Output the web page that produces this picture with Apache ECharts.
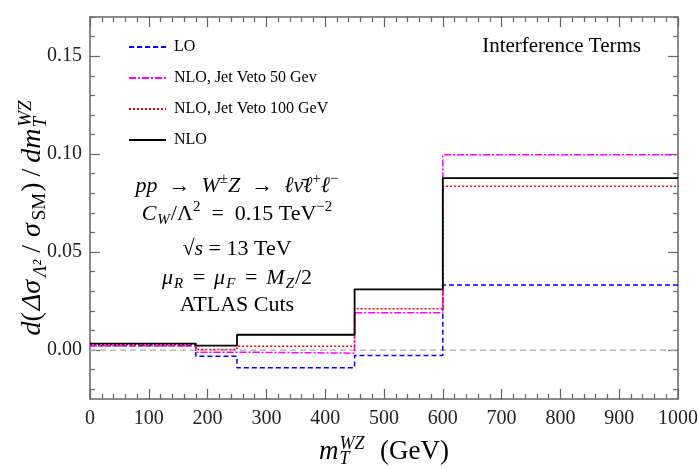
<!DOCTYPE html>
<html>
<head>
<meta charset="utf-8">
<script src="https://cdn.jsdelivr.net/npm/echarts@6/dist/echarts.min.js"></script>
<style>
  html, body { margin: 0; padding: 0; background: #ffffff; }
  #chart { width: 698px; height: 469px; }
</style>
</head>
<body>
<div id="chart"></div>
<script>
// Bin edges in m_T^WZ (GeV) and the interference-term value of each bin
const binEdges = [0, 180, 250, 450, 600, 1000];
const loValues = [0.0022, -0.0032, -0.0091, -0.0028, 0.0332];
const jetVeto50Values = [0.0022, -0.0011, -0.0016, 0.0190, 0.0997];
const jetVeto100Values = [0.0027, 0.0003, 0.0019, 0.0211, 0.0836];
const nloValues = [0.0033, 0.0022, 0.0078, 0.0310, 0.0878];
const seriesNames = ['LO', 'NLO, Jet Veto 50 Gev', 'NLO, Jet Veto 100 GeV', 'NLO'];

// Axis ranges and tick positions
const xRange = [0, 1000];
const yRange = [-0.025, 0.17];
const yMajorTicks = [0, 0.05, 0.10, 0.15];
const yMinorTicks = [-0.02, -0.01, 0.01, 0.02, 0.03, 0.04, 0.06, 0.07, 0.08, 0.09,
                     0.11, 0.12, 0.13, 0.14, 0.16, 0.17];

const SERIF = 'Liberation Serif';
const FRAME = '#666666';

// histogram outline: one point per left edge, last value repeated at the right edge
function steps(values) {
  return binEdges.map((e, i) => [e, values[Math.min(i, values.length - 1)]]);
}

// rich-text styles for simple math: italic symbols, sub- and superscripts
function mathRich(size) {
  const small = Math.round(size * 0.68);
  const lh = size + 6;
  const slh = Math.round(size * 0.55);
  const pad = Math.round(size * 0.2);
  return {
    n:    { fontFamily: SERIF, fontSize: size, lineHeight: lh, color: '#000' },
    i:    { fontFamily: SERIF, fontStyle: 'italic', fontSize: size, lineHeight: lh, color: '#000' },
    // operators and slashes get a little extra room on both sides
    op:   { fontFamily: SERIF, fontSize: size, lineHeight: lh, padding: [0, pad, 0, pad], color: '#000' },
    ip:   { fontFamily: SERIF, fontStyle: 'italic', fontSize: size, lineHeight: lh, padding: [0, 2, 0, 2], color: '#000' },
    sub:  { fontFamily: SERIF, fontStyle: 'italic', fontSize: small, lineHeight: slh, verticalAlign: 'bottom', padding: [0, 1, 0, 1], color: '#000' },
    subn: { fontFamily: SERIF, fontSize: small, lineHeight: slh, verticalAlign: 'bottom', padding: [0, 1, 0, 1], color: '#000' },
    sup:  { fontFamily: SERIF, fontStyle: 'italic', fontSize: small, lineHeight: slh, verticalAlign: 'top', color: '#000' },
    supn: { fontFamily: SERIF, fontSize: small, lineHeight: slh, verticalAlign: 'top', color: '#000' },
    // superscript stacked over the preceding subscript
    supo: { fontFamily: SERIF, fontStyle: 'italic', fontSize: small, lineHeight: slh, verticalAlign: 'top',
            padding: [0, 2, 0, -Math.round(size * 0.4)], color: '#000' }
  };
}

function lineSeries(name, values, color, type, width) {
  return {
    name: name,
    type: 'line',
    step: 'end',
    data: steps(values),
    symbol: 'none',
    silent: true,
    animation: false,
    color: color,
    lineStyle: { color: color, width: width, type: type }
  };
}

function mathText(text, x, y, size) {
  return {
    type: 'text',
    x: x, y: y,
    silent: true,
    style: {
      text: text,
      rich: mathRich(size),
      fontFamily: SERIF, fontSize: size, fill: '#000',
      align: 'center', verticalAlign: 'middle',
      textAlign: 'center', textVerticalAlign: 'middle'
    }
  };
}

const tickStyle = { color: FRAME, width: 1.2 };
const yAxisBase = {
  type: 'value', min: yRange[0], max: yRange[1],
  splitLine: { show: false }
};
const xAxisBase = {
  type: 'value', min: xRange[0], max: xRange[1], interval: 100,
  axisLine: { show: true, onZero: false, lineStyle: { color: FRAME, width: 1.5 } },
  axisTick: { show: true, inside: true, length: 10, lineStyle: tickStyle },
  minorTick: { show: true, splitNumber: 5, length: 5, lineStyle: tickStyle },
  splitLine: { show: false }
};

const option = {
  backgroundColor: '#ffffff',
  animation: false,
  grid: { left: 90, right: 20, top: 17, bottom: 70, containLabel: false, outerBoundsMode: 'none' },
  legend: {
    data: seriesNames,
    orient: 'vertical',
    left: 128, top: 39, padding: 0,
    itemWidth: 37, itemHeight: 14, itemGap: 15,
    itemStyle: { opacity: 0 },
    textStyle: { fontFamily: SERIF, fontSize: 16, color: '#000', lineHeight: 16, padding: [0, 0, 0, 3] },
    selectedMode: false
  },
  xAxis: [
    Object.assign({}, xAxisBase, {
      position: 'bottom',
      axisLabel: { fontFamily: SERIF, fontSize: 20, color: '#222', margin: 10, formatter: (v) => String(v) },
      name: '{i|m}{sub|T}{supo|WZ}{n|  (GeV)}',
      nameLocation: 'middle', nameGap: 36, nameMoveOverlap: false,
      nameTextStyle: { rich: mathRich(27), fontFamily: SERIF, fontSize: 27 }
    }),
    Object.assign({}, xAxisBase, {
      position: 'top',
      axisLabel: { show: false }
    })
  ],
  yAxis: [
    Object.assign({}, yAxisBase, {
      position: 'left',
      axisLine: { show: true, onZero: false, lineStyle: { color: FRAME, width: 1.5 } },
      axisTick: { show: true, inside: true, length: 10, customValues: yMajorTicks, lineStyle: tickStyle },
      axisLabel: { show: true, customValues: yMajorTicks, fontFamily: SERIF, fontSize: 20, color: '#222', margin: 8,
                   formatter: (v) => v.toFixed(2) },
      name: '{i|d}{n|(}{ip|Δσ}{sub|Λ²}{op|/}{ip|σ}{subn|SM}{n|)}{op|/}{i|dm}{sub|T}{supo|WZ}',
      nameLocation: 'middle', nameGap: 40, nameMoveOverlap: false,
      nameTextStyle: { rich: mathRich(28), fontFamily: SERIF, fontSize: 28, padding: [0, 18, 0, 0] }
    }),
    Object.assign({}, yAxisBase, {
      position: 'left',
      axisLine: { show: false, onZero: false },
      axisTick: { show: true, inside: true, length: 5, customValues: yMinorTicks, lineStyle: tickStyle },
      axisLabel: { show: false }
    }),
    Object.assign({}, yAxisBase, {
      position: 'right',
      axisLine: { show: true, onZero: false, lineStyle: { color: FRAME, width: 1.5 } },
      axisTick: { show: true, inside: true, length: 10, customValues: yMajorTicks, lineStyle: tickStyle },
      axisLabel: { show: false }
    }),
    Object.assign({}, yAxisBase, {
      position: 'right',
      axisLine: { show: false, onZero: false },
      axisTick: { show: true, inside: true, length: 5, customValues: yMinorTicks, lineStyle: tickStyle },
      axisLabel: { show: false }
    })
  ],
  series: [
    {
      name: 'zero', type: 'line', data: [[xRange[0], 0], [xRange[1], 0]],
      symbol: 'none', silent: true, animation: false,
      lineStyle: { color: '#aaaaaa', width: 1.2, type: [6, 4] }
    },
    lineSeries(seriesNames[0], loValues, '#0000ff', [5, 3], 1.5),
    lineSeries(seriesNames[1], jetVeto50Values, '#ff00ff', [7, 2, 2, 2], 1.5),
    lineSeries(seriesNames[2], jetVeto100Values, '#ff0000', [2, 2], 1.5),
    lineSeries(seriesNames[3], nloValues, '#000000', 'solid', 1.8)
  ],
  graphic: [
    {
      type: 'text', x: 641, y: 46, silent: true,
      style: { text: 'Interference Terms', fontFamily: SERIF, fontSize: 21, fill: '#000',
               align: 'right', verticalAlign: 'middle', textAlign: 'right', textVerticalAlign: 'middle' }
    },
    mathText('{i|pp}{n|  →  }{i|W}{supn|±}{i|Z}{n|  →  }{i|ℓν̄ℓ}{supn|+}{i|ℓ}{supn|−}', 237, 186, 22),
    mathText('{i|C}{sub|W}{n|/Λ}{supn|2}{n|  =  0.15 TeV}{supn|−2}', 237, 214, 22),
    mathText('{n|√}{i|s}{n| = 13 TeV}', 237, 249, 22),
    mathText('{i|μ}{sub|R}{n|\u2009\u2009=\u2009\u2009}{i|μ}{sub|F}{n|\u2009\u2009=\u2009\u2009}{i|M}{sub|Z}{n|/2}', 237, 278, 22),
    mathText('{n|ATLAS Cuts}', 237, 305, 22)
  ]
};

const chart = echarts.init(document.getElementById('chart'), null, { renderer: 'canvas' });
chart.setOption(option);
</script>
</body>
</html>
